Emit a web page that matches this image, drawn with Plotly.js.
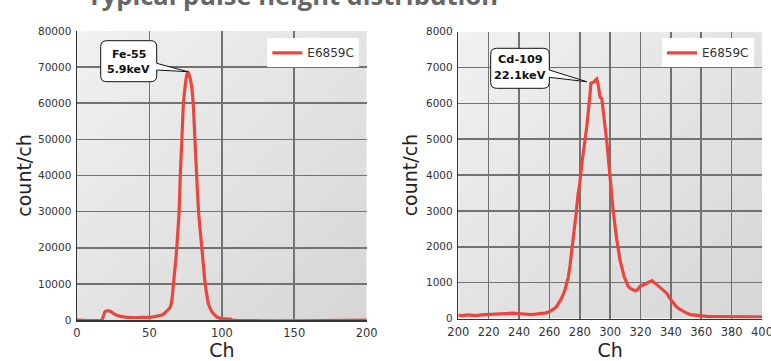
<!DOCTYPE html>
<html>
<head>
<meta charset="utf-8">
<script src="https://cdn.plot.ly/plotly-3.0.1.min.js"></script>
<style>html,body{margin:0;padding:0;background:#fff;}#chart{width:771px;height:361px;}</style>
</head>
<body>
<div id="chart"></div>
<script>
// ---- Data ----
const seriesName = "E6859C";

// Fe-55 spectrum (left panel)
const feCh = [0, 17, 18, 19.5, 22, 23, 26, 30, 35, 45, 50, 55, 58, 60, 62, 64.3, 65.5, 66.6, 67.8, 68.9, 69.7, 70.5, 71.3, 72.4, 73.5, 74.7, 75.8, 76.7, 77.7, 79.1, 80.2, 81.4, 82.6, 83.9, 85, 86.2, 87.3, 88.5, 89.6, 90.8, 92.5, 94.3, 96, 97.8, 100, 103, 106, 107, 200];
const feCount = [0, 0, 800, 2400, 2500, 2400, 1600, 1000, 750, 700, 750, 1050, 1300, 1700, 2500, 3500, 5500, 10000, 15000, 20000, 25000, 30000, 40000, 50000, 60000, 64800, 67800, 68600, 67500, 64800, 60000, 50000, 40000, 30000, 25000, 20000, 15000, 10000, 7000, 4400, 2800, 1700, 1000, 600, 350, 280, 250, 0, 0];

// Cd-109 spectrum (right panel)
const cdCh = [200, 203, 206, 209, 212, 215, 218, 221, 224, 227, 230, 233, 236, 239, 242, 245, 248, 251, 254, 257, 259, 261, 263, 264.7, 266.5, 268, 270.3, 271.5, 272.5, 273.5, 274.3, 275.8, 277.6, 278.9, 279.8, 281.3, 282.4, 284.6, 286.8, 287.3, 288.5, 289.5, 290.3, 291.2, 292, 293, 293.4, 294.5, 295.5, 296.7, 298, 298.9, 300, 301.1, 302.2, 304.4, 306.5, 309.2, 312, 313.5, 315.4, 316.5, 318, 319.8, 322, 324.2, 326, 327.5, 329.7, 331, 333, 335, 337.4, 339, 340.7, 343, 345, 348, 350.6, 353, 356, 360.4, 365, 370, 375, 380, 385, 390, 395, 400];
const cdCount = [90, 80, 100, 90, 80, 100, 110, 120, 130, 120, 150, 140, 150, 140, 130, 110, 110, 120, 130, 150, 170, 210, 270, 330, 450, 560, 800, 1000, 1170, 1450, 1720, 2280, 2930, 3490, 3700, 4300, 4610, 5350, 6280, 6560, 6580, 6600, 6650, 6680, 6550, 6280, 6170, 6140, 5800, 5350, 4850, 4420, 3860, 3500, 2930, 2190, 1630, 1170, 890, 830, 790, 775, 800, 900, 940, 980, 1030, 1055, 980, 930, 870, 790, 700, 580, 470, 360, 280, 200, 145, 110, 90, 60, 50, 50, 45, 50, 45, 45, 45, 45];

// Axis ticks and labels
const feTicksX = [0, 50, 100, 150, 200];
const feTicksY = [0, 10000, 20000, 30000, 40000, 50000, 60000, 70000, 80000];
const cdTicksX = [200, 220, 240, 260, 280, 300, 320, 340, 360, 380, 400];
const cdTicksY = [0, 1000, 2000, 3000, 4000, 5000, 6000, 7000, 8000];
const titleText = "Typical pulse height distribution";
const xTitle = "Ch";
const yTitle = "count/ch";
const feLabel = ["Fe-55", "5.9keV"];
const cdLabel = ["Cd-109", "22.1keV"];

// ---- Layout helpers (pixel -> paper) ----
const W = 771, H = 361;
const M = {l: 77, r: 9, t: 31, b: 41};
const PW = W - M.l - M.r, PH = H - M.t - M.b;
const px = x => (x - M.l) / PW;
const py = y => (M.t + PH - y) / PH;

function callout(x0, y0, x1, y1, r, wy0, wy1, tx, ty) {
  const P = (x, y) => px(x).toFixed(5) + "," + py(y).toFixed(5);
  return "M" + P(x0 + r, y0) + " L" + P(x1 - r, y0) + " Q" + P(x1, y0) + " " + P(x1, y0 + r) +
    " L" + P(x1, wy0) + " L" + P(tx, ty) + " L" + P(x1, wy1) +
    " L" + P(x1, y1 - r) + " Q" + P(x1, y1) + " " + P(x1 - r, y1) +
    " L" + P(x0 + r, y1) + " Q" + P(x0, y1) + " " + P(x0, y1 - r) +
    " L" + P(x0, y0 + r) + " Q" + P(x0, y0) + " " + P(x0 + r, y0) + " Z";
}

const grad = "data:image/svg+xml;utf8," + encodeURIComponent(
  '<svg xmlns="http://www.w3.org/2000/svg" width="100" height="100" preserveAspectRatio="none">' +
  '<defs><linearGradient id="g" x1="0" y1="0" x2="1" y2="1">' +
  '<stop offset="0" stop-color="#f1f1f1"/><stop offset="1" stop-color="#d6d6d6"/></linearGradient></defs>' +
  '<rect width="100" height="100" fill="url(#g)"/></svg>');

const FONT = "DejaVu Sans, Liberation Sans, Arial, sans-serif";
const RED = "#eb463c";
const xd1 = [0, px(366.7)], xd2 = [px(458.3), 1];
const yd2 = [py(318.5), py(31.7)];

const traces = [
  {x: feCh, y: feCount, type: "scatter", mode: "lines", name: seriesName,
   line: {color: RED, width: 3.2, shape: "spline", smoothing: 0.6}, xaxis: "x", yaxis: "y", legend: "legend"},
  {x: cdCh, y: cdCount, type: "scatter", mode: "lines", name: seriesName,
   line: {color: RED, width: 3.2}, xaxis: "x2", yaxis: "y2", legend: "legend2"}
];

const axCommon = {
  showgrid: true, gridcolor: "#727272", gridwidth: 1.6,
  showline: true, linecolor: "#333", linewidth: 1.5,
  zeroline: false, ticks: "outside", ticklen: 2, tickcolor: "rgba(0,0,0,0)",
  tickfont: {family: FONT, size: 10.5, color: "#333"}, fixedrange: true,
  tickformat: "d", ticklabeloverflow: "allow"
};
const xtf = {family: FONT, size: 11.5, color: "#333"};
const titleFont = {family: FONT, size: 19, color: "#222"};

const layout = {
  width: W, height: H, margin: M,
  paper_bgcolor: "#fff", plot_bgcolor: "rgba(0,0,0,0)",
  showlegend: true,
  xaxis: Object.assign({}, axCommon, {domain: xd1, range: [0, 200], tickvals: feTicksX, tickfont: xtf,
    anchor: "y", title: {text: xTitle, font: titleFont, standoff: 4}}),
  yaxis: Object.assign({}, axCommon, {domain: [0, 1], range: [0, 80000], tickvals: feTicksY,
    anchor: "x", title: {text: yTitle, font: titleFont, standoff: 1}}),
  xaxis2: Object.assign({}, axCommon, {domain: xd2, range: [200, 400], tickvals: cdTicksX, tickfont: xtf,
    anchor: "y2", title: {text: xTitle, font: titleFont, standoff: 4}}),
  yaxis2: Object.assign({}, axCommon, {domain: yd2, range: [0, 8000], tickvals: cdTicksY,
    anchor: "x2", title: {text: yTitle, font: titleFont, standoff: 3}}),
  legend: {x: px(359.3), xanchor: "right", y: py(38.3), yanchor: "top", bgcolor: "#fff", borderwidth: 0,
    font: {family: FONT, size: 12, color: "#333"}, itemwidth: 30},
  legend2: {x: px(754), xanchor: "right", y: py(38.3), yanchor: "top", bgcolor: "#fff", borderwidth: 0,
    font: {family: FONT, size: 12, color: "#333"}, itemwidth: 30},
  images: [
    {source: grad, xref: "paper", yref: "paper", x: xd1[0], y: 1, sizex: xd1[1] - xd1[0], sizey: 1,
     sizing: "stretch", layer: "below", xanchor: "left", yanchor: "top"},
    {source: grad, xref: "paper", yref: "paper", x: xd2[0], y: yd2[1], sizex: xd2[1] - xd2[0], sizey: yd2[1] - yd2[0],
     sizing: "stretch", layer: "below", xanchor: "left", yanchor: "top"}
  ],
  shapes: [
    {type: "path", xref: "paper", yref: "paper", path: callout(100.7, 40.7, 156.7, 81.7, 6, 63.3, 70, 187.7, 71.7),
     fillcolor: "#fff", line: {color: "#111", width: 1}},
    {type: "path", xref: "paper", yref: "paper", path: callout(490.7, 48.3, 549.3, 88.3, 6, 70, 77.3, 586.7, 81.7),
     fillcolor: "#fff", line: {color: "#111", width: 1}}
  ],
  annotations: [
    {text: "<b>" + titleText + "</b>", xref: "paper", yref: "paper", x: px(85), xanchor: "left",
     y: py(-4.7), yanchor: "middle", showarrow: false, font: {family: "Open Sans, sans-serif", size: 25.5, color: "#666"}},
    {text: "<b>" + feLabel[0] + "</b>", xref: "paper", yref: "paper", x: px(128.7), y: py(54), xanchor: "center", yanchor: "middle",
     showarrow: false, font: {family: FONT, size: 11, color: "#111"}},
    {text: "<b>" + feLabel[1] + "</b>", xref: "paper", yref: "paper", x: px(128.7), y: py(70), xanchor: "center", yanchor: "middle",
     showarrow: false, font: {family: FONT, size: 11, color: "#111"}},
    {text: "<b>" + cdLabel[0] + "</b>", xref: "paper", yref: "paper", x: px(520), y: py(59.3), xanchor: "center", yanchor: "middle",
     showarrow: false, font: {family: FONT, size: 11.3, color: "#111"}},
    {text: "<b>" + cdLabel[1] + "</b>", xref: "paper", yref: "paper", x: px(520), y: py(75), xanchor: "center", yanchor: "middle",
     showarrow: false, font: {family: FONT, size: 11.3, color: "#111"}}
  ]
};

Plotly.newPlot("chart", traces, layout, {displayModeBar: false, staticPlot: true});
</script>
</body>
</html>
